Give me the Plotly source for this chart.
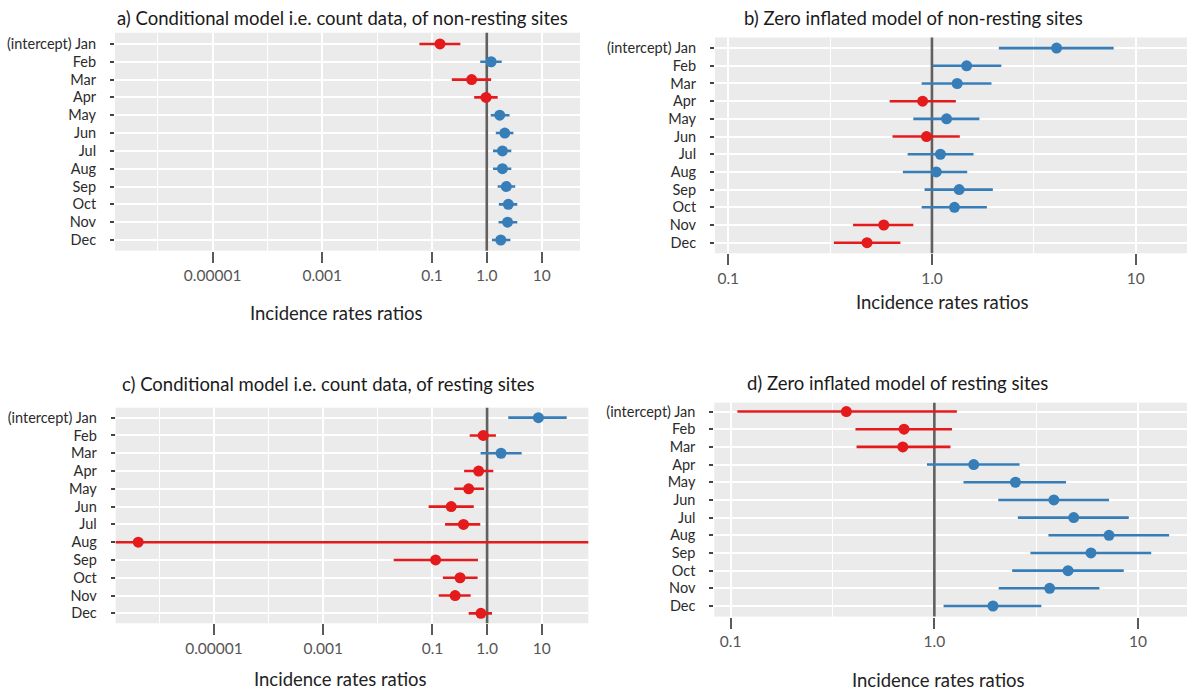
import plotly.graph_objects as go

W, H = 1192, 693

months = ['(intercept) Jan', 'Feb', 'Mar', 'Apr', 'May', 'Jun',
          'Jul', 'Aug', 'Sep', 'Oct', 'Nov', 'Dec']
rows = list(range(len(months)))

# a) Conditional model, non-resting sites
a_est = [0.14, 1.20, 0.53, 0.97, 1.72, 2.13, 1.93, 1.93, 2.27, 2.47, 2.39, 1.80]
a_lo = [0.059, 0.76, 0.23, 0.59, 1.18, 1.46, 1.30, 1.30, 1.58, 1.66, 1.64, 1.24]
a_hi = [0.33, 1.87, 1.20, 1.58, 2.60, 3.06, 2.80, 2.80, 3.30, 3.60, 3.60, 2.70]

# b) Zero inflated model, non-resting sites
b_est = [4.09, 1.48, 1.33, 0.90, 1.18, 0.94, 1.10, 1.05, 1.36, 1.29, 0.58, 0.48]
b_lo = [2.13, 1.01, 0.89, 0.62, 0.81, 0.64, 0.76, 0.72, 0.92, 0.89, 0.41, 0.33]
b_hi = [7.80, 2.19, 1.96, 1.31, 1.71, 1.37, 1.60, 1.49, 1.99, 1.86, 0.81, 0.70]

# c) Conditional model, resting sites
c_est = [8.7, 0.85, 1.80, 0.70, 0.46, 0.22, 0.37, 4.1e-7, 0.114, 0.32, 0.26, 0.77]
c_lo = [2.44, 0.48, 0.76, 0.38, 0.25, 0.085, 0.17, 1e-12, 0.0195, 0.155, 0.13, 0.46]
c_hi = [28.7, 1.45, 4.30, 1.30, 0.88, 0.57, 0.75, 1e6, 0.68, 0.67, 0.50, 1.23]

# d) Zero inflated model, resting sites
d_est = [0.37, 0.71, 0.70, 1.56, 2.50, 3.86, 4.83, 7.20, 5.87, 4.53, 3.68, 1.94]
d_lo = [0.108, 0.41, 0.415, 0.92, 1.39, 2.06, 2.57, 3.63, 2.96, 2.41, 2.07, 1.11]
d_hi = [1.29, 1.22, 1.20, 2.62, 4.43, 7.20, 9.00, 14.2, 11.6, 8.50, 6.46, 3.35]

titles = ['a) Conditional model i.e. count data, of non-resting sites',
          'b) Zero inflated model of non-resting sites',
          'c) Conditional model i.e. count data, of resting sites',
          'd) Zero inflated model of resting sites']
x_title = 'Incidence rates ratios'

wide_ticks = [1e-5, 1e-3, 0.1, 1, 10]
wide_labels = ['0.00001', '0.001', '0.1', '1.0', '10']
wide_minor = [1e-6, 1e-4, 1e-2]
narrow_ticks = [0.1, 1, 10]
narrow_labels = ['0.1', '1.0', '10']
narrow_minor = [0.316, 3.16]

RED = '#e41a1c'
BLUE = '#377eb8'
FONT = 'Lato'


def px(x0, x1):
    return [x0 / W, x1 / W]


def py(top, bottom):
    return [1 - bottom / H, 1 - top / H]


panels = [
    dict(est=a_est, lo=a_lo, hi=a_hi, xd=px(115, 580), yd=py(32.7, 250.7),
         xr=[-6.78, 1.70], yr=[11.6, -0.63], tv=wide_ticks, tt=wide_labels, mv=wide_minor,
         title_xy=(342, 18), axt_xy=(336, 313)),
    dict(est=b_est, lo=b_lo, hi=b_hi, xd=px(715, 1187), yd=py(37.5, 253.3),
         xr=[-1.065, 1.252], yr=[11.6, -0.6], tv=narrow_ticks, tt=narrow_labels, mv=narrow_minor,
         title_xy=(913, 18), axt_xy=(942, 302)),
    dict(est=c_est, lo=c_lo, hi=c_hi, xd=px(115.7, 588.3), yd=py(407.7, 623.3),
         xr=[-6.80, 1.853], yr=[11.56, -0.56], tv=wide_ticks, tt=wide_labels, mv=wide_minor,
         title_xy=(328, 384), axt_xy=(340, 679)),
    dict(est=d_est, lo=d_lo, hi=d_hi, xd=px(714.3, 1187), yd=py(402.7, 616.6),
         xr=[-1.08, 1.24], yr=[11.6, -0.5], tv=narrow_ticks, tt=narrow_labels, mv=narrow_minor,
         title_xy=(897, 383), axt_xy=(938, 680)),
]

fig = go.Figure()
annotations = []

for i, p in enumerate(panels):
    n = '' if i == 0 else str(i + 1)
    xa, ya = 'x' + n, 'y' + n

    # reference line at IRR = 1 (drawn first so points sit on top)
    fig.add_trace(go.Scatter(x=[1, 1], y=[-5, 20], mode='lines',
                             line=dict(color='#606060', width=2.6),
                             xaxis=xa, yaxis=ya, showlegend=False, hoverinfo='skip'))

    for color, is_red in [(RED, True), (BLUE, False)]:
        idx = [k for k, v in enumerate(p['est']) if (v < 1) == is_red]
        if not idx:
            continue
        fig.add_trace(go.Scatter(
            x=[p['est'][k] for k in idx],
            y=[rows[k] for k in idx],
            mode='markers',
            marker=dict(color=color, size=11, line=dict(width=0)),
            error_x=dict(type='data', symmetric=False,
                         array=[p['hi'][k] - p['est'][k] for k in idx],
                         arrayminus=[p['est'][k] - p['lo'][k] for k in idx],
                         color=color, thickness=2.6, width=0),
            xaxis=xa, yaxis=ya, showlegend=False, hoverinfo='skip'))

    fig.update_layout(**{
        'xaxis' + n: dict(
            type='log', domain=p['xd'], range=p['xr'], anchor=ya,
            tickmode='array', tickvals=p['tv'], ticktext=p['tt'],
            ticks='outside', ticklen=11, tickwidth=2.2, tickcolor='#5a5a5a',
            tickfont=dict(family=FONT, size=15.5, color='#555555'),
            showgrid=True, gridcolor='white', gridwidth=1.6,
            minor=dict(tickmode='array', tickvals=p['mv'], showgrid=True,
                       gridcolor='white', gridwidth=0.9, ticks=''),
            zeroline=False, showline=False, fixedrange=True),
        'yaxis' + n: dict(
            type='linear', domain=p['yd'], range=p['yr'], anchor=xa,
            tickmode='array', tickvals=rows, ticktext=months,
            ticks='outside', ticklen=4, tickwidth=1.5, tickcolor='#444444',
            tickfont=dict(family=FONT, size=14.5, color='#2b2b2b'),
            ticklabelstandoff=11,
            showgrid=True, gridcolor='white', gridwidth=2,
            zeroline=False, showline=False, fixedrange=True),
    })

    tx, ty = p['title_xy']
    annotations.append(dict(text=titles[i], xref='paper', yref='paper',
                            x=tx / W, y=1 - ty / H, xanchor='center', yanchor='middle',
                            showarrow=False, font=dict(family=FONT, size=18.5, color='#1a1a1a')))
    ax_, ay_ = p['axt_xy']
    annotations.append(dict(text=x_title, xref='paper', yref='paper',
                            x=ax_ / W, y=1 - ay_ / H, xanchor='center', yanchor='middle',
                            showarrow=False, font=dict(family=FONT, size=18.5, color='#222222')))

fig.update_layout(
    width=W, height=H,
    margin=dict(l=0, r=0, t=0, b=0),
    paper_bgcolor='white', plot_bgcolor='#ebebeb',
    annotations=annotations,
    font=dict(family=FONT),
)

fig.write_html('out.html')
